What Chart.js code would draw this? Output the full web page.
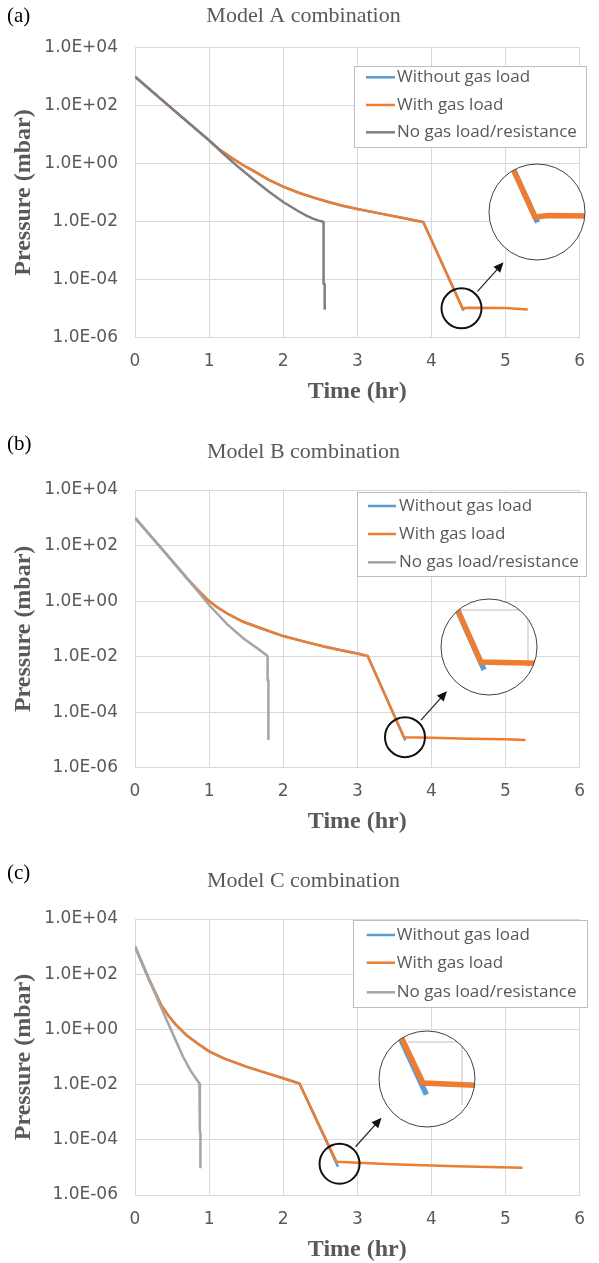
<!DOCTYPE html>
<html>
<head>
<meta charset="utf-8">
<script src="https://cdn.jsdelivr.net/npm/chart.js@4.4.1/dist/chart.umd.min.js"></script>
<style>
  html, body { margin: 0; padding: 0; background: #fff; }
  body { width: 599px; height: 1263px; position: relative; overflow: hidden; }
  canvas { position: absolute; left: 0; }
</style>
</head>
<body>
<canvas id="chartA" width="599" height="405" style="top:0px"></canvas>
<canvas id="chartB" width="599" height="432" style="top:405px"></canvas>
<canvas id="chartC" width="599" height="426" style="top:837px"></canvas>
<script>
// ---- data (time in hr, pressure in mbar) ----
const yTickExps = [-6, -4, -2, 0, 2, 4];
const seriesLabels = ['Without gas load', 'With gas load', 'No gas load/resistance'];

// (a) Model A
const timeA_with = [0, 0.5, 1.0, 1.15, 1.3, 1.45, 1.6, 1.8, 2.0, 2.2, 2.4, 2.6, 2.8, 3.0, 3.3, 3.6, 3.89, 4.42, 4.5, 5.0, 5.3];
const presA_with = [1.0e3, 7.9e1, 6.3e0, 2.9e0, 1.6e0, 9.1e-1, 5.6e-1, 2.8e-1, 1.6e-1, 1.0e-1, 6.8e-2, 4.8e-2, 3.5e-2, 2.7e-2, 1.9e-2, 1.35e-2, 9.5e-3, 1.0e-5, 1.05e-5, 1.02e-5, 9.2e-6];
const timeA_without = [0, 0.5, 1.0, 1.15, 1.3, 1.45, 1.6, 1.8, 2.0, 2.2, 2.4, 2.6, 2.8, 3.0, 3.3, 3.6, 3.89, 4.435];
const presA_without = [1.0e3, 7.9e1, 6.3e0, 2.9e0, 1.6e0, 9.1e-1, 5.6e-1, 2.8e-1, 1.6e-1, 1.0e-1, 6.8e-2, 4.8e-2, 3.5e-2, 2.7e-2, 1.9e-2, 1.35e-2, 9.5e-3, 8.3e-6];
const timeA_none = [0, 0.5, 1.0, 1.2, 1.4, 1.6, 1.8, 2.0, 2.2, 2.3, 2.4, 2.48, 2.53, 2.545, 2.545, 2.56, 2.56];
const presA_none = [1.0e3, 7.9e1, 6.3e0, 2.1e0, 7.4e-1, 2.8e-1, 1.1e-1, 4.7e-2, 2.3e-2, 1.65e-2, 1.25e-2, 1.07e-2, 1.0e-2, 9.3e-3, 7.1e-5, 6.8e-5, 8.9e-6];

// (b) Model B
const timeB_with = [0, 0.37, 0.72, 0.85, 1.0, 1.11, 1.25, 1.46, 1.7, 2.0, 2.3, 2.55, 2.78, 3.0, 3.14, 3.63, 4.0, 4.5, 5.0, 5.27];
const presB_with = [1.0e3, 7.2e1, 5.8e0, 2.5e0, 1.0e0, 6.0e-1, 3.5e-1, 1.8e-1, 1.05e-1, 5.5e-2, 3.4e-2, 2.3e-2, 1.7e-2, 1.3e-2, 1.05e-2, 1.26e-5, 1.2e-5, 1.1e-5, 1.05e-5, 1.0e-5];
const timeB_without = [0, 0.37, 0.72, 0.85, 1.0, 1.11, 1.25, 1.46, 1.7, 2.0, 2.3, 2.55, 2.78, 3.0, 3.14, 3.648];
const presB_without = [1.0e3, 7.2e1, 5.8e0, 2.5e0, 1.0e0, 6.0e-1, 3.5e-1, 1.8e-1, 1.05e-1, 5.5e-2, 3.4e-2, 2.3e-2, 1.7e-2, 1.3e-2, 1.05e-2, 9.5e-6];
const timeB_none = [0, 0.37, 0.72, 1.0, 1.24, 1.46, 1.65, 1.78, 1.79, 1.79, 1.8, 1.8];
const presB_none = [1.0e3, 7.2e1, 5.8e0, 7.2e-1, 1.5e-1, 4.6e-2, 2.0e-2, 1.1e-2, 1.0e-2, 1.45e-3, 1.4e-3, 1.0e-5];

// (c) Model C
const timeC_with = [0, 0.2, 0.35, 0.45, 0.55, 0.7, 0.85, 1.0, 1.2, 1.5, 1.8, 2.0, 2.22, 2.72, 3.46, 4.33, 5.23];
const presC_with = [1.0e3, 5.6e1, 7.9e0, 3.2e0, 1.5e0, 6.0e-1, 3.0e-1, 1.6e-1, 8.9e-2, 4.5e-2, 2.5e-2, 1.7e-2, 1.1e-2, 1.6e-5, 1.3e-5, 1.1e-5, 9.8e-6];
const timeC_without = [0, 0.2, 0.35, 0.45, 0.55, 0.7, 0.85, 1.0, 1.2, 1.5, 1.8, 2.0, 2.22, 2.74];
const presC_without = [1.0e3, 5.6e1, 7.9e0, 3.2e0, 1.5e0, 6.0e-1, 3.0e-1, 1.6e-1, 8.9e-2, 4.5e-2, 2.5e-2, 1.7e-2, 1.1e-2, 1.05e-5];
const timeC_none = [0, 0.2, 0.4, 0.55, 0.65, 0.75, 0.82, 0.87, 0.875, 0.875, 0.883, 0.883];
const presC_none = [1.0e3, 5.6e1, 3.2e0, 4.0e-1, 1.0e-1, 3.2e-2, 1.7e-2, 1.1e-2, 1.0e-2, 2.0e-4, 1.8e-4, 9.3e-6];

const BLUE = '#5b9bd5', ORANGE = '#ed7d31';
const TEXT = '#595959', GRID = '#d9d9d9';
const ZOOM_K = 2.3;

function fmtExp(v) {
  const e = Math.round(Math.log10(v));
  return '1.0E' + (e < 0 ? '-' : '+') + String(Math.abs(e)).padStart(2, '0');
}

function pts(t, p) {
  return t.map((x, i) => ({ x: x, y: p[i] }));
}

function drawLegend(ctx, cfg) {
  const L = cfg.legend;
  ctx.save();
  ctx.fillStyle = '#fff';
  ctx.fillRect(L.x, L.y, L.w, L.h);
  ctx.strokeStyle = '#bfbfbf';
  ctx.lineWidth = 1;
  ctx.strokeRect(L.x + 0.5, L.y + 0.5, L.w, L.h);
  ctx.font = '17px "Open Sans"';
  ctx.textBaseline = 'middle';
  ctx.textAlign = 'left';
  const colors = [BLUE, ORANGE, cfg.gray];
  seriesLabels.forEach((label, i) => {
    const yy = L.y + L.rows[i];
    ctx.strokeStyle = colors[i];
    ctx.lineWidth = 2.5;
    ctx.beginPath();
    ctx.moveTo(L.x + L.line[0], yy);
    ctx.lineTo(L.x + L.line[1], yy);
    ctx.stroke();
    ctx.fillStyle = TEXT;
    ctx.fillText(label, L.x + L.text, yy);
  });
  ctx.restore();
}

function drawInset(chart, cfg) {
  const ctx = chart.ctx, xs = chart.scales.x, ys = chart.scales.y, z = cfg.zoom;
  const fx = xs.getPixelForValue(z.t), fy = ys.getPixelForValue(z.p);
  const sx = fx + z.ring[0], sy = fy + z.ring[1];
  ctx.save();
  // small ring around the corner
  ctx.strokeStyle = '#111';
  ctx.lineWidth = 2;
  ctx.beginPath();
  ctx.arc(sx, sy, 20, 0, Math.PI * 2);
  ctx.stroke();
  // arrow
  const x0 = sx + 16, y0 = sy - 17, x1 = sx + 42, y1 = sy - 46;
  const len = Math.hypot(x1 - x0, y1 - y0), ux = (x1 - x0) / len, uy = (y1 - y0) / len;
  ctx.strokeStyle = '#222';
  ctx.lineWidth = 1.2;
  ctx.beginPath();
  ctx.moveTo(x0, y0);
  ctx.lineTo(x1 - ux * 8, y1 - uy * 8);
  ctx.stroke();
  ctx.fillStyle = '#111';
  ctx.beginPath();
  ctx.moveTo(x1, y1);
  ctx.lineTo(x1 - ux * 10 - uy * 4.5, y1 - uy * 10 + ux * 4.5);
  ctx.lineTo(x1 - ux * 10 + uy * 4.5, y1 - uy * 10 - ux * 4.5);
  ctx.closePath();
  ctx.fill();
  // magnified view
  const bx = z.center[0], by = z.center[1], R = 48;
  ctx.beginPath();
  ctx.arc(bx, by, R, 0, Math.PI * 2);
  ctx.fillStyle = '#fff';
  ctx.fill();
  ctx.save();
  ctx.clip();
  if (z.frame) {
    const f = z.frame;
    ctx.strokeStyle = '#d4d4d4';
    ctx.lineWidth = 1.5;
    ctx.beginPath();
    ctx.moveTo(bx + f[0], by + f[1]);
    ctx.lineTo(bx + f[2], by + f[1]);
    ctx.lineTo(bx + f[2], by + f[3]);
    ctx.stroke();
  }
  z.lines.forEach(s => {
    ctx.beginPath();
    s.t.forEach((t, i) => {
      const px = bx + z.shift[0] + (xs.getPixelForValue(t) - fx) * ZOOM_K;
      const py = by + z.shift[1] + (ys.getPixelForValue(s.p[i]) - fy) * ZOOM_K;
      if (i) ctx.lineTo(px, py); else ctx.moveTo(px, py);
    });
    ctx.strokeStyle = s.color;
    ctx.lineWidth = 5.5;
    ctx.stroke();
  });
  ctx.restore();
  ctx.strokeStyle = '#404040';
  ctx.lineWidth = 1;
  ctx.beginPath();
  ctx.arc(bx, by, R, 0, Math.PI * 2);
  ctx.stroke();
  ctx.restore();
}

function makePanel(canvasId, cfg) {
  const overlay = {
    id: 'overlay',
    afterDraw(chart) {
      const ctx = chart.ctx;
      ctx.save();
      ctx.textBaseline = 'middle';
      ctx.textAlign = 'left';
      ctx.fillStyle = '#000';
      ctx.font = '21px "Liberation Serif"';
      ctx.fillText(cfg.tag, 7, cfg.tagY);
      ctx.textAlign = 'center';
      ctx.fillStyle = TEXT;
      ctx.font = '22px "Liberation Serif"';
      ctx.fillText(cfg.title, 303.5, cfg.titleY);
      ctx.restore();
      drawLegend(ctx, cfg);
      drawInset(chart, cfg);
    }
  };

  const tickFont = { family: '"DejaVu Sans"', size: 17 };
  const titleFont = { family: '"Liberation Serif"', size: 24, weight: 'bold', lineHeight: 1 };

  return new Chart(document.getElementById(canvasId), {
    type: 'line',
    data: {
      datasets: [
        { label: seriesLabels[0], data: pts(cfg.without.t, cfg.without.p), borderColor: BLUE, order: 2 },
        { label: seriesLabels[1], data: pts(cfg.with.t, cfg.with.p), borderColor: ORANGE, order: 1 },
        { label: seriesLabels[2], data: pts(cfg.none.t, cfg.none.p), borderColor: cfg.gray, order: 0 }
      ]
    },
    options: {
      responsive: false,
      animation: false,
      devicePixelRatio: 1,
      events: [],
      layout: { padding: { top: cfg.top, right: 5.7, bottom: cfg.bottom, left: 0 } },
      elements: {
        line: { borderWidth: 2.5, tension: 0, fill: false },
        point: { radius: 0 }
      },
      plugins: { legend: { display: false }, tooltip: { enabled: false } },
      scales: {
        x: {
          type: 'linear', min: 0, max: 6,
          ticks: { stepSize: 1, padding: 14, color: TEXT, font: tickFont },
          grid: { color: GRID, drawTicks: false },
          border: { color: GRID },
          title: { display: true, text: 'Time (hr)', color: TEXT, font: titleFont, padding: 0 },
          afterFit(s) { s.height = 66.4; }
        },
        y: {
          type: 'logarithmic', min: 1e-6, max: 1e4,
          afterBuildTicks(s) { s.ticks = yTickExps.map(e => ({ value: Math.pow(10, e) })); },
          ticks: { padding: 17, color: TEXT, font: tickFont, callback: v => fmtExp(v) },
          grid: { color: GRID, drawTicks: false },
          border: { color: GRID },
          title: { display: true, text: 'Pressure (mbar)', color: TEXT, font: titleFont, padding: { top: 12, bottom: 0 } },
          afterFit(s) { s.width = 135; }
        }
      }
    },
    plugins: [overlay]
  });
}

makePanel('chartA', {
  tag: '(a)', tagY: 16, title: 'Model A combination', titleY: 16.7,
  top: 47.7, bottom: 1.3, gray: '#7f7f7f',
  with: { t: timeA_with, p: presA_with },
  without: { t: timeA_without, p: presA_without },
  none: { t: timeA_none, p: presA_none },
  legend: { x: 354, y: 66, w: 232, h: 81, rows: [11.3, 39, 66.3], line: [12, 41], text: 43 },
  zoom: {
    t: timeA_with[17], p: presA_with[17], ring: [-1, 0], center: [537, 212], shift: [-2, 5], frame: null,
    lines: [{ t: timeA_without, p: presA_without, color: BLUE }, { t: timeA_with, p: presA_with, color: ORANGE }]
  }
});

makePanel('chartB', {
  tag: '(b)', tagY: 39.5, title: 'Model B combination', titleY: 47.5,
  top: 85, bottom: 2.9, gray: '#a5a5a5',
  with: { t: timeB_with, p: presB_with },
  without: { t: timeB_without, p: presB_without },
  none: { t: timeB_none, p: presB_none },
  legend: { x: 357, y: 87, w: 229, h: 84, rows: [14, 42, 70.3], line: [11, 39], text: 42 },
  zoom: {
    t: timeB_with[15], p: presB_with[15], ring: [1, 0], center: [489, 242], shift: [-8, 15], frame: [-29, -37, 39, 20],
    lines: [{ t: timeB_without, p: presB_without, color: BLUE }, { t: timeB_with, p: presB_with, color: ORANGE }]
  }
});

makePanel('chartC', {
  tag: '(c)', tagY: 36.8, title: 'Model C combination', titleY: 44,
  top: 82, bottom: 1.6, gray: '#a5a5a5',
  with: { t: timeC_with, p: presC_with },
  without: { t: timeC_without, p: presC_without },
  none: { t: timeC_none, p: presC_none },
  legend: { x: 353, y: 83, w: 234, h: 87, rows: [15, 42.7, 72.3], line: [13.7, 42], text: 43.7 },
  zoom: {
    t: timeC_with[13], p: presC_with[13], ring: [3, 2], center: [427, 242], shift: [-4, 4], frame: [-19, -37, 35, 26],
    lines: [{ t: timeC_without, p: presC_without, color: BLUE }, { t: timeC_with, p: presC_with, color: ORANGE }]
  }
});
</script>
</body>
</html>
